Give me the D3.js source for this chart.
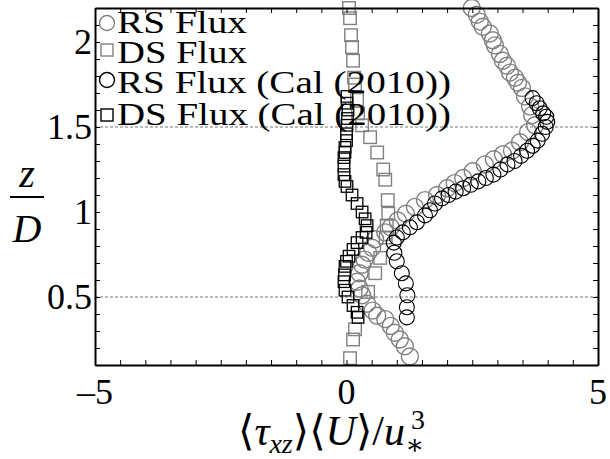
<!DOCTYPE html>
<html>
<head>
<meta charset="utf-8">
<script src="https://cdn.jsdelivr.net/npm/d3@7"></script>
<style>
  body { margin: 0; background: #fff; }
  svg { display: block; }
  text { font-family: "Liberation Serif", "DejaVu Serif", serif; fill: #000; }
  .axis path, .axis line { stroke: #000; }
</style>
</head>
<body>
<div id="chart"></div>
<script>
// RS Flux (gray circles): x = flux, z = height
var rsX = [2.49, 2.59, 2.65, 2.71, 2.85, 2.91, 2.95, 3.05, 3.11, 3.19, 3.25, 3.35, 3.41, 3.49, 3.55, 3.65, 3.69, 3.75, 3.61, 3.45, 3.29, 3.11, 2.93, 2.75, 2.51, 2.32, 2.15, 2.00, 1.80, 1.56, 1.36, 1.18, 1.02, 0.88, 0.77, 0.57, 0.51, 0.43, 0.36, 0.31, 0.26, 0.21, 0.26, 0.31, 0.41, 0.52, 0.61, 0.77, 0.88, 0.96, 1.06, 1.16, 1.26];
var rsZ = [2.20, 2.16, 2.12, 2.09, 2.05, 2.01, 1.98, 1.93, 1.89, 1.86, 1.82, 1.79, 1.76, 1.73, 1.68, 1.62, 1.57, 1.51, 1.47, 1.41, 1.36, 1.34, 1.31, 1.28, 1.24, 1.20, 1.17, 1.14, 1.10, 1.07, 1.03, 0.99, 0.95, 0.91, 0.88, 0.84, 0.79, 0.76, 0.72, 0.69, 0.64, 0.59, 0.55, 0.51, 0.46, 0.42, 0.39, 0.37, 0.33, 0.29, 0.25, 0.21, 0.15];

// DS Flux (gray squares)
var dsX = [0.05, 0.07, 0.09, 0.11, 0.13, 0.15, 0.17, 0.21, 0.23, 0.31, 0.47, 0.61, 0.73, 0.77, 0.82, 0.83, 0.80, 0.78, 0.67, 0.57, 0.43, 0.17, 0.13, 0.07];
var dsZ = [2.20, 2.14, 2.04, 1.97, 1.89, 1.79, 1.75, 1.66, 1.58, 1.51, 1.44, 1.35, 1.25, 1.19, 1.07, 0.99, 0.92, 0.85, 0.73, 0.64, 0.53, 0.31, 0.25, 0.14];

// RS Flux (Cal (2010)) (black circles)
var rsCalX = [1.20, 1.20, 1.21, 1.18, 1.10, 1.00, 0.95, 0.94, 1.00, 1.12, 1.26, 1.40, 1.56, 1.66, 1.76, 1.90, 2.03, 2.17, 2.32, 2.47, 2.62, 2.77, 2.92, 3.06, 3.20, 3.34, 3.47, 3.59, 3.70, 3.80, 3.89, 3.96, 3.99, 3.97, 3.91, 3.84, 3.78, 3.70];
var rsCalZ = [0.38, 0.44, 0.51, 0.58, 0.64, 0.71, 0.76, 0.82, 0.85, 0.88, 0.91, 0.94, 0.98, 1.01, 1.05, 1.08, 1.10, 1.12, 1.14, 1.16, 1.18, 1.20, 1.22, 1.25, 1.28, 1.30, 1.33, 1.36, 1.39, 1.42, 1.46, 1.50, 1.53, 1.56, 1.58, 1.61, 1.64, 1.67];

// DS Flux (Cal (2010)) (black squares)
var dsCalX = [0.01, 0.01, 0.03, 0.02, 0.01, 0.00, 0.00, -0.03, -0.03, -0.05, -0.05, -0.05, -0.03, 0.01, 0.11, 0.21, 0.31, 0.37, 0.41, 0.39, 0.31, 0.21, 0.13, 0.05, 0.00, -0.03, -0.04, -0.05, -0.03, 0.03, 0.13, 0.21, 0.23];
var dsCalZ = [1.68, 1.64, 1.60, 1.55, 1.51, 1.46, 1.42, 1.38, 1.35, 1.32, 1.27, 1.22, 1.18, 1.15, 1.10, 1.05, 1.00, 0.96, 0.92, 0.88, 0.85, 0.82, 0.78, 0.74, 0.71, 0.68, 0.63, 0.59, 0.54, 0.50, 0.45, 0.41, 0.38];

var legendLabels = ["RS Flux", "DS Flux", "RS Flux (Cal (2010))", "DS Flux (Cal (2010))"];
var refLines = [0.5, 1.5];
var xMajor = [-5, 0, 5];
var yMajor = [0.5, 1, 1.5, 2];

var width = 610, height = 459;
var margin = {top: 8, right: 12, bottom: 94, left: 95};

var svg = d3.select("#chart").append("svg")
	.attr("width", width)
	.attr("height", height);

var x = d3.scaleLinear().domain([-5, 5]).range([margin.left, width - margin.right]);
var y = d3.scaleLinear().domain([0.1, 2.2]).range([height - margin.bottom, margin.top]);

var gray = "#808080";

// dotted reference lines
svg.selectAll(".ref")
	.data(refLines)
	.enter().append("line")
	.attr("x1", x(-5)).attr("x2", x(5))
	.attr("y1", function(d) { return y(d); })
	.attr("y2", function(d) { return y(d); })
	.style("stroke", "#777")
	.style("stroke-width", 1)
	.style("stroke-dasharray", "3,2");

function zip(xs, zs) {
	return xs.map(function(v, i) { return {x: v, z: zs[i]}; });
}

function circles(data, r, color, sw) {
	svg.append("g").selectAll("circle")
		.data(data)
		.enter().append("circle")
		.attr("cx", function(d) { return x(d.x); })
		.attr("cy", function(d) { return y(d.z); })
		.attr("r", r)
		.style("fill", "none")
		.style("stroke", color)
		.style("stroke-width", sw);
}

function squares(data, s, color, sw) {
	svg.append("g").selectAll("rect")
		.data(data)
		.enter().append("rect")
		.attr("x", function(d) { return x(d.x) - s / 2; })
		.attr("y", function(d) { return y(d.z) - s / 2; })
		.attr("width", s)
		.attr("height", s)
		.style("fill", "none")
		.style("stroke", color)
		.style("stroke-width", sw);
}

circles(zip(rsX, rsZ), 8.5, gray, 1.4);
squares(zip(dsX, dsZ), 12.5, gray, 1.4);
circles(zip(rsCalX, rsCalZ), 7.5, "#000", 1.1);
squares(zip(dsCalX, dsCalZ), 11.5, "#000", 1.3);

// axes, ticks inward on all four sides
var xTicks = d3.range(-5, 5.001, 0.5);
var yTicks = d3.range(1, 22.5, 1).map(function(d) { return d / 10; });

function fmt(d) { return d < 0 ? "\u2013" + Math.abs(d) : String(d); }

svg.append("g").attr("class", "axis")
	.attr("transform", "translate(0," + y(0.1) + ")")
	.call(d3.axisBottom(x).tickValues(xTicks).tickSize(-5).tickSizeOuter(0).tickFormat(""));
svg.append("g").attr("class", "axis")
	.attr("transform", "translate(0," + y(2.2) + ")")
	.call(d3.axisTop(x).tickValues(xTicks).tickSize(-5).tickSizeOuter(0).tickFormat(""));
svg.append("g").attr("class", "axis")
	.attr("transform", "translate(" + x(-5) + ",0)")
	.call(d3.axisLeft(y).tickValues(yTicks).tickSize(-5).tickSizeOuter(0).tickFormat(""));
svg.append("g").attr("class", "axis")
	.attr("transform", "translate(" + x(5) + ",0)")
	.call(d3.axisRight(y).tickValues(yTicks).tickSize(-5).tickSizeOuter(0).tickFormat(""));

svg.selectAll(".axis line").style("stroke-width", 1);
svg.selectAll(".axis path").style("stroke-width", 2);

// tick labels
svg.selectAll(".xlab")
	.data(xMajor)
	.enter().append("text")
	.attr("x", function(d) { return x(d); })
	.attr("y", y(0.1) + 39)
	.attr("text-anchor", "middle")
	.style("font-size", "36px")
	.text(fmt);

svg.selectAll(".ylab")
	.data(yMajor)
	.enter().append("text")
	.attr("x", x(-5) - 3)
	.attr("y", function(d) { return y(d) + 12; })
	.attr("text-anchor", "end")
	.style("font-size", "36px")
	.text(function(d) { return String(d); });

// x axis title: <tau_xz><U>/u_*^3
var xTitle = svg.append("text")
	.attr("x", 238)
	.attr("y", 445)
	.style("font-size", "42px");
xTitle.append("tspan").text("\u27E8");
xTitle.append("tspan").style("font-style", "italic").text("\u03C4");
xTitle.append("tspan").style("font-style", "italic").style("font-size", "28px").attr("dy", 8).text("xz");
xTitle.append("tspan").attr("dy", -8).text("\u27E9\u27E8");
xTitle.append("tspan").style("font-style", "italic").text("U");
xTitle.append("tspan").text("\u27E9/");
xTitle.append("tspan").style("font-style", "italic").text("u");
xTitle.append("tspan").style("font-size", "28px").attr("dy", 9).text("\u2217");
xTitle.append("tspan").style("font-size", "28px").attr("dx", -13).attr("dy", -25).text("3");

// y axis title z / D
svg.append("text")
	.attr("x", 27).attr("y", 187)
	.attr("text-anchor", "middle")
	.style("font-size", "40px").style("font-style", "italic")
	.text("z");
svg.append("line")
	.attr("x1", 10).attr("x2", 44)
	.attr("y1", 197).attr("y2", 197)
	.style("stroke", "#000").style("stroke-width", 2);
svg.append("text")
	.attr("x", 27).attr("y", 242)
	.attr("text-anchor", "middle")
	.style("font-size", "40px").style("font-style", "italic")
	.text("D");

// legend
var legendRows = [
	{label: legendLabels[0], shape: "circle", color: gray, cy: 23, base: 33, w: 130},
	{label: legendLabels[1], shape: "square", color: gray, cy: 50, base: 63, w: 130},
	{label: legendLabels[2], shape: "circle", color: "#000", cy: 80, base: 93, w: 334},
	{label: legendLabels[3], shape: "square", color: "#000", cy: 115, base: 125, w: 334}
];
var leg = svg.append("g");
legendRows.forEach(function(r) {
	if (r.shape === "circle") {
		leg.append("circle").attr("cx", 107).attr("cy", r.cy).attr("r", 7.5)
			.style("fill", "none").style("stroke", r.color).style("stroke-width", 1.4);
	} else {
		leg.append("rect").attr("x", 101).attr("y", r.cy - 6).attr("width", 12).attr("height", 12)
			.style("fill", "none").style("stroke", r.color).style("stroke-width", 1.4);
	}
	leg.append("text")
		.attr("x", 117).attr("y", r.base)
		.attr("textLength", r.w)
		.attr("lengthAdjust", "spacingAndGlyphs")
		.style("font-size", "31px")
		.text(r.label);
});
</script>
</body>
</html>
